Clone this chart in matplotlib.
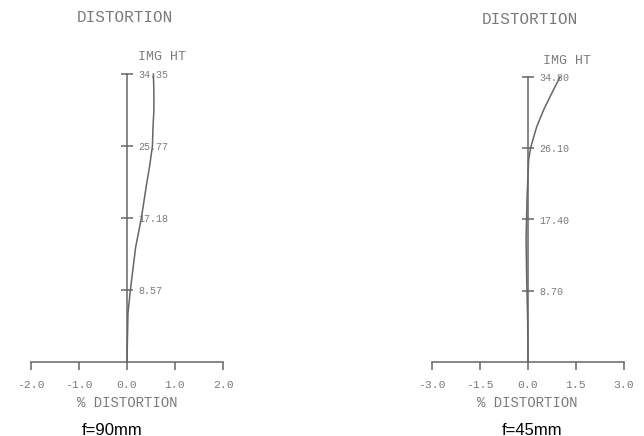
import matplotlib
matplotlib.use('Agg')
import matplotlib.pyplot as plt

# f=90mm panel
h90 = [0.0, 5.8, 8.57, 13.7, 17.18, 21.3, 23.3, 25.77, 27.8, 30.0, 32.2, 34.35]
d90 = [0.0, 0.02, 0.07, 0.18, 0.30, 0.41, 0.47, 0.53, 0.54, 0.56, 0.56, 0.55]
ticks90 = [8.57, 17.18, 25.77, 34.35]
xt90 = [-2.0, -1.0, 0.0, 1.0, 2.0]

# f=45mm panel
h45 = [0.0, 5.0, 10.0, 15.0, 20.0, 24.7, 26.1, 26.7, 28.7, 30.8, 32.8, 34.8]
d45 = [0.0, -0.01, -0.04, -0.06, -0.03, 0.02, 0.08, 0.12, 0.27, 0.49, 0.74, 1.0]
ticks45 = [8.70, 17.40, 26.10, 34.80]
xt45 = [-3.0, -1.5, 0.0, 1.5, 3.0]

W, H = 644, 436
gray = '#666666'
tgray = '#7a7a7a'
mono = 'Liberation Mono'

fig = plt.figure(figsize=(W / 100, H / 100), dpi=100)


def px(x, y):
    return x / W, 1 - y / H


def panel(rect, h, d, yt, xt, title_xy, img_xy, lab_xy, cap_xy, cap):
    ax = fig.add_axes(rect)
    ax.plot(d, h, color=gray, lw=1.1, clip_on=False)
    ax.set_xlim(xt[0], xt[-1])
    ax.set_ylim(0, yt[-1])
    for s in ['top', 'left']:
        ax.spines[s].set_visible(False)
    ax.spines['right'].set_position(('data', 0))
    ax.spines['bottom'].set_position(('data', 0))
    for s in ['right', 'bottom']:
        ax.spines[s].set_color(gray)
        ax.spines[s].set_linewidth(1.1)
    ax.yaxis.set_ticks_position('right')
    ax.set_yticks(yt)
    ax.set_yticklabels(['%.2f' % v for v in yt])
    ax.set_xticks(xt)
    ax.set_xticklabels(['%.1f' % v for v in xt])
    ax.tick_params(axis='y', direction='inout', length=8, width=1.1,
                   color=gray, labelcolor=tgray, labelsize=7.2, pad=4)
    ax.tick_params(axis='x', direction='out', length=6, width=1.1,
                   color=gray, labelcolor=tgray, labelsize=8.2, pad=7)
    for lbl in ax.get_xticklabels() + ax.get_yticklabels():
        lbl.set_family(mono)
    ax.patch.set_alpha(0)

    fig.text(*px(*title_xy), 'DISTORTION', family=mono, fontsize=11.5,
             color=tgray, ha='center', va='center')
    fig.text(*px(*img_xy), 'IMG HT', family=mono, fontsize=9.5,
             color=tgray, ha='left', va='center')
    fig.text(*px(*lab_xy), '% DISTORTION', family=mono, fontsize=10,
             color=tgray, ha='center', va='center')
    fig.text(*px(*cap_xy), cap, family='Liberation Sans', fontsize=12,
             color='black', ha='center', va='center')
    return ax


panel([31 / W, (H - 362) / H, 192 / W, 288 / H], h90, d90, ticks90, xt90,
      (125, 17), (138, 57), (127, 403), (112, 430), 'f=90mm')
panel([432 / W, (H - 362) / H, 192 / W, 285 / H], h45, d45, ticks45, xt45,
      (530, 20), (543, 61), (527, 403), (532, 430), 'f=45mm')

fig.savefig('out.png', dpi=100)
